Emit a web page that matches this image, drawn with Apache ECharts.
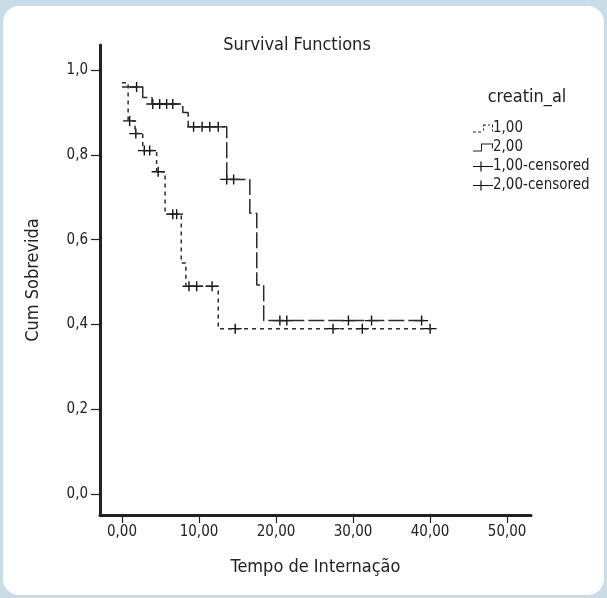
<!DOCTYPE html>
<html>
<head>
<meta charset="utf-8" />
<title>Survival Functions</title>
<style>
  html, body { margin: 0; padding: 0; width: 607px; height: 598px; background: #c9dce8; overflow: hidden; }
  .card { position: absolute; left: 3px; top: 6px; right: 3px; bottom: 3px; background: #fff; border-radius: 16px; }
  #main { position: absolute; left: 0; top: 0; width: 607px; height: 598px; }
</style>
</head>
<body>
<div class="card"></div>
<div id="main"></div>
<script src="https://cdn.jsdelivr.net/npm/echarts@6/dist/echarts.min.js"></script>
<script>
// creatin_al = 1,00 : tempos das quedas e sobrevida acumulada
var g1Time = [0, 0.8, 1.7, 2.7, 4.5, 5.6, 7.7, 8.3, 12.5, 40.4];
var g1Surv = [0.97, 0.88, 0.85, 0.81, 0.76, 0.66, 0.545, 0.49, 0.39, 0.39];
var g1Cens = [1.0, 1.8, 2.9, 3.6, 4.7, 6.6, 7.1, 8.7, 9.7, 11.7, 14.7, 27.4, 31.2, 40.0];

// creatin_al = 2,00
var g2Time = [0, 2.7, 3.9, 7.9, 8.6, 13.6, 16.6, 17.5, 18.4, 39.6];
var g2Surv = [0.96, 0.935, 0.92, 0.90, 0.866, 0.742, 0.662, 0.493, 0.409, 0.409];
var g2Cens = [1.9, 4.0, 4.9, 5.8, 6.6, 9.3, 10.4, 11.4, 12.5, 13.6, 14.5, 20.5, 21.4, 29.4, 32.4, 38.9];

var xTicks = [0, 10, 20, 30, 40, 50];
var yTicks = [0, 0.2, 0.4, 0.6, 0.8, 1.0];

var FONT = "'Liberation Sans Narrow', 'DejaVu Sans Condensed', sans-serif";
var INK = '#222';

function pairs(t, s) {
  return t.map(function(v, i) { return [v, s[i]]; });
}
// sobrevida no instante do censurado
function censPoints(ct, t, s) {
  return ct.map(function(c) {
    var k = 0;
    for (var i = 0; i < t.length; i++) { if (t[i] <= c) k = i; }
    return [c, s[k]];
  });
}

var plus = 'path://M0,4.3 L13,4.3 L13,5.7 L0,5.7 Z M5.8,0 L7.2,0 L7.2,10 L5.8,10 Z';
var iconDash = 'path://M0,8 L3,8 L3,9 L0,9 Z M5,8 L8,8 L8,9 L5,9 Z M10,5 L11,5 L11,7 L10,7 Z M10,1 L13,1 L13,2 L10,2 Z M10,2 L11,2 L11,3 L10,3 Z M15,1 L17,1 L17,2 L15,2 Z M19,1 L20,1 L20,4 L19,4 Z M19,6 L20,6 L20,8 L19,8 Z';
var iconStep = 'path://M0,8 L9,8 L9,9 L0,9 Z M8,1 L9,1 L9,9 L8,9 Z M8,1 L20,1 L20,2 L8,2 Z M19,1 L20,1 L20,6 L19,6 Z';
var iconPlus = 'path://M0,4.4 L20,4.4 L20,5.6 L0,5.6 Z M7.4,0 L8.6,0 L8.6,10 L7.4,10 Z';

var chart = echarts.init(document.getElementById('main'));
chart.setOption({
  animation: false,
  textStyle: { fontFamily: FONT },
  grid: { left: 100, right: 76, top: 45, bottom: 83 },
  graphic: [
    { type: 'text', x: 297, y: 36, style: { text: 'Survival Functions', font: '18px ' + FONT, fill: INK, textAlign: 'center' } },
    { type: 'text', x: 527, y: 88, style: { text: 'creatin_al', font: '18px ' + FONT, fill: INK, textAlign: 'center' } }
  ],
  legend: {
    orient: 'vertical',
    left: 468,
    top: 116,
    itemWidth: 20,
    itemHeight: 10,
    itemGap: 4,
    textStyle: { fontFamily: FONT, fontSize: 15, color: INK, lineHeight: 14, padding: [0, 0, 0, -5] },
    itemStyle: { borderWidth: 0, opacity: 1 },
    lineStyle: { width: 0 },
    data: [
      { name: '1,00', icon: iconDash },
      { name: '2,00', icon: iconStep },
      { name: '1,00-censored', icon: iconPlus },
      { name: '2,00-censored', icon: iconPlus }
    ]
  },
  xAxis: {
    type: 'value',
    min: -2.85,
    max: 53.1,
    name: 'Tempo de Internação',
    nameLocation: 'middle',
    nameGap: 43,
    nameTextStyle: { fontSize: 18, color: INK, fontFamily: FONT },
    splitLine: { show: false },
    axisLine: { onZero: false, lineStyle: { color: INK, width: 3 } },
    axisTick: { customValues: xTicks, length: 8, lineStyle: { color: INK, width: 1.2 } },
    axisLabel: {
      customValues: xTicks, margin: 10, fontSize: 15, color: INK, fontFamily: FONT,
      formatter: function(v) { return v.toFixed(2).replace('.', ','); }
    }
  },
  yAxis: {
    type: 'value',
    min: -0.0495,
    max: 1.059,
    name: 'Cum Sobrevida',
    nameLocation: 'middle',
    nameGap: 58,
    nameTextStyle: { fontSize: 18, color: INK, fontFamily: FONT },
    splitLine: { show: false },
    axisLine: { onZero: false, lineStyle: { color: INK, width: 3 } },
    axisTick: { customValues: yTicks, length: 9, lineStyle: { color: INK, width: 1.2 } },
    axisLabel: {
      customValues: yTicks, margin: 12, fontSize: 15, color: INK, fontFamily: FONT,
      formatter: function(v) { return v.toFixed(1).replace('.', ','); }
    }
  },
  series: [
    {
      name: '1,00', type: 'line', step: 'end', showSymbol: false,
      data: pairs(g1Time, g1Surv),
      itemStyle: { color: INK },
      lineStyle: { color: '#2a2a2a', width: 1.5, type: [4, 4] }
    },
    {
      name: '2,00', type: 'line', step: 'end', showSymbol: false,
      data: pairs(g2Time, g2Surv),
      itemStyle: { color: INK },
      lineStyle: { color: '#2a2a2a', width: 1.5, type: [16, 4] }
    },
    {
      name: '1,00-censored', type: 'scatter', symbol: plus, symbolSize: [13, 10],
      data: censPoints(g1Cens, g1Time, g1Surv),
      itemStyle: { color: '#111', opacity: 1 }
    },
    {
      name: '2,00-censored', type: 'scatter', symbol: plus, symbolSize: [13, 10],
      data: censPoints(g2Cens, g2Time, g2Surv),
      itemStyle: { color: '#111', opacity: 1 }
    }
  ]
});
</script>
</body>
</html>
